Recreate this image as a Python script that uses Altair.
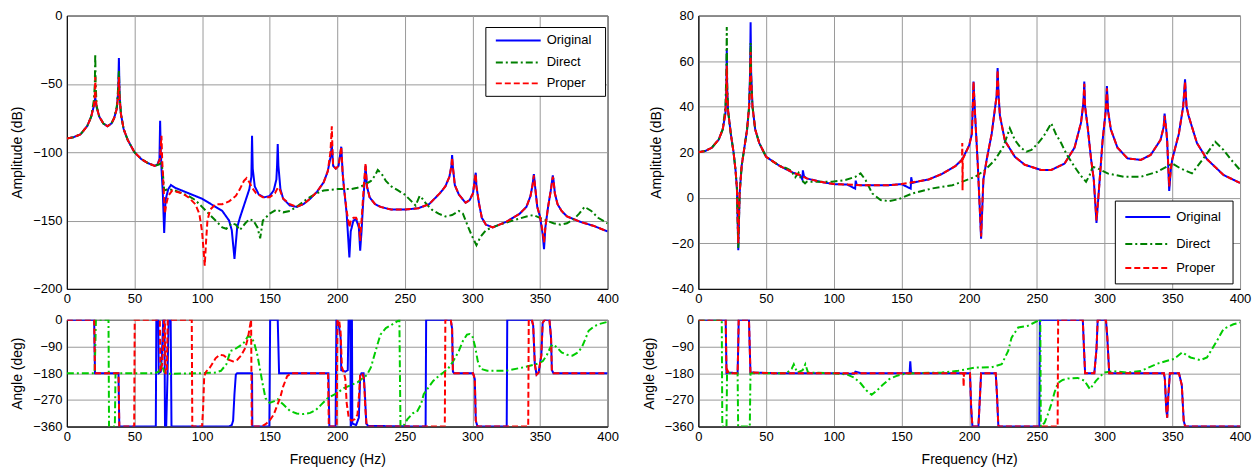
import altair as alt
import pandas as pd

SERIES = ["Original", "Direct", "Proper"]
FREQ_TICKS = [0, 50, 100, 150, 200, 250, 300, 350, 400]
AMP_TICKS_L = [-200, -150, -100, -50, 0]
AMP_TICKS_R = [-40, -20, 0, 20, 40, 60, 80]
ANG_TICKS = [-360, -270, -180, -90, 0]

# ---------------- top-left amplitude (dB) : (Hz, dB) ----------------
tl_original = [
    (0, -90), (5, -89), (10, -87), (15, -81), (18, -74), (20, -66), (20.7, -62), (21, -60), (21.3, -62),
    (22, -67), (24, -74), (27, -79), (30, -81), (33, -79), (35, -75), (37, -68), (38, -55), (38.5, -31),
    (39, -58), (40, -72), (42, -83), (45, -91), (50, -100), (55, -105), (60, -108), (65, -110), (67, -109),
    (68.5, -105), (69, -77), (69.5, -100), (70, -112), (71, -130), (72, -159), (73, -135), (75, -127),
    (77, -124), (80, -126), (85, -128), (90, -130), (95, -132), (100, -134), (105, -137), (110, -140),
    (115, -143), (120, -150), (122, -157), (124, -178), (126, -155), (128, -148), (130, -142), (133, -133),
    (135, -127), (136.5, -118), (137, -88), (137.5, -112), (139, -125), (142, -131), (146, -133), (150, -132),
    (153, -128), (155, -120), (155.5, -110), (156, -94), (156.5, -110), (158, -127), (160, -134), (165, -139),
    (170, -140), (175, -138), (180, -134), (185, -129), (190, -122), (193, -114), (195, -104), (196, -95),
    (196.5, -102), (197, -110), (199, -112), (201, -110), (203, -96), (203.5, -105), (204, -115), (205, -126),
    (207, -145), (209, -177), (210, -158), (212, -150), (214, -149), (216, -155), (217, -172), (218, -158),
    (219, -140), (220, -125), (221, -110), (222, -125), (224, -133), (228, -138), (232, -140), (240, -142),
    (250, -142), (260, -141), (268, -138), (276, -130), (280, -125), (283, -118), (284.5, -110), (285, -102),
    (285.5, -110), (287, -124), (290, -131), (295, -137), (298, -135), (300.5, -130), (302, -118),
    (302.5, -115), (303, -125), (305, -138), (307, -148), (310, -153), (315, -155), (320, -153), (325, -151),
    (330, -148), (335, -145), (340, -140), (343, -132), (344.5, -124), (345.5, -116), (346.5, -126),
    (348, -140), (350, -147), (352, -160), (353, -171), (354, -155), (356, -140), (358, -128), (359.5, -117),
    (360, -120), (361, -130), (363, -138), (366, -143), (370, -147), (375, -149), (380, -151), (390, -154),
    (400, -158),
]
tl_direct = [
    (0, -90), (5, -89), (10, -87), (15, -81), (18, -74), (20, -62), (20.7, -50), (21, -28), (21.3, -50),
    (22, -66), (24, -74), (27, -79), (30, -81), (33, -79), (35, -75), (37, -66), (38, -52), (38.5, -40),
    (39, -58), (40, -72), (42, -83), (45, -91), (50, -100), (55, -105), (60, -108), (65, -110), (68, -109),
    (70, -108), (71, -115), (72, -128), (75, -127), (80, -128), (85, -130), (90, -132), (95, -135),
    (100, -140), (105, -145), (110, -150), (115, -155), (118, -156), (122, -152), (125, -153), (128, -157),
    (132, -152), (135, -149), (138, -150), (141, -155), (143, -163), (145, -150), (150, -145), (155, -142),
    (160, -144), (165, -143), (170, -140), (178, -134), (185, -130), (190, -128), (200, -127), (210, -127),
    (215, -126), (220, -124), (225, -121), (228, -117), (230, -113), (233, -116), (236, -121), (240, -125),
    (245, -128), (250, -131), (255, -136), (258, -139), (261, -132), (263, -134), (266, -138), (270, -142),
    (275, -145), (280, -147), (285, -146), (290, -143), (293, -145), (297, -155), (300, -162), (303, -168),
    (306, -162), (310, -157), (315, -155), (320, -153), (330, -150), (340, -147), (345, -146), (350, -148),
    (355, -150), (360, -152), (365, -153), (370, -152), (375, -149), (379, -145), (383, -140), (388, -143),
    (393, -148), (400, -152),
]
tl_proper = [
    (0, -90), (5, -89), (10, -87), (15, -81), (18, -74), (20, -66), (20.7, -58), (21, -45), (21.3, -58),
    (22, -67), (24, -74), (27, -79), (30, -81), (33, -79), (35, -75), (37, -68), (38, -58), (38.5, -45),
    (39, -60), (40, -72), (42, -83), (45, -91), (50, -100), (55, -105), (60, -108), (65, -110), (67, -109),
    (69, -105), (69.5, -95), (70, -88), (70.5, -105), (71.5, -125), (72.5, -145), (73.5, -138), (75, -132),
    (78, -128), (85, -130), (90, -133), (95, -138), (98, -145), (100, -158), (101, -170), (102, -183),
    (103, -165), (104, -150), (106, -142), (110, -138), (115, -138), (120, -136), (125, -132), (128, -127),
    (131, -121), (133, -119), (135, -122), (137, -126), (140, -130), (145, -133), (150, -133), (154, -130),
    (156, -126), (157, -126), (160, -134), (165, -138), (170, -140), (175, -138), (180, -134), (185, -129),
    (190, -122), (193, -114), (195, -100), (196, -81), (196.5, -98), (197, -110), (199, -112), (201, -110),
    (203, -96), (203.5, -105), (204, -115), (205, -126), (207, -143), (209, -155), (210, -150), (212, -148),
    (214, -148), (216, -152), (217, -165), (218, -150), (219, -135), (220, -120), (221, -108), (222, -125),
    (224, -133), (228, -138), (232, -140), (240, -142), (250, -142), (260, -141), (268, -138), (276, -130),
    (280, -125), (283, -118), (284.5, -110), (285, -104), (285.5, -110), (287, -124), (290, -131),
    (295, -137), (298, -135), (300.5, -130), (302, -118), (302.5, -116), (303, -125), (305, -138), (307, -148),
    (310, -153), (315, -155), (320, -153), (325, -151), (330, -148), (335, -145), (340, -140), (343, -132),
    (344.5, -124), (345.5, -117), (346.5, -126), (348, -140), (350, -147), (352, -158), (353, -166),
    (354, -155), (356, -140), (358, -128), (359.5, -118), (360, -120), (361, -130), (363, -138), (366, -143),
    (370, -147), (375, -149), (380, -151), (390, -154), (400, -158),
]

# ---------------- top-right amplitude (dB) ----------------
tr_original = [
    (0, 20), (5, 20.5), (10, 22), (15, 25.5), (18, 30), (20, 37), (20.7, 48), (21, 65), (21.3, 48), (22, 38),
    (24, 28), (26, 20), (27.5, 12), (28.5, 4), (29.5, -23), (30.5, 2), (32, 14), (34, 22), (36, 30),
    (37.5, 40), (38.2, 55), (38.6, 77), (39, 55), (40, 40), (42, 30), (45, 24), (50, 18), (55, 16), (60, 14),
    (65, 12.5), (70, 11), (75, 10), (76.8, 8), (77.2, 12), (78, 9.5), (80, 8.5), (90, 7), (100, 6),
    (110, 5.8), (115.8, 4), (116.2, 7.5), (117, 5.6), (120, 5.5), (130, 5.5), (140, 5.5), (150, 6),
    (156.8, 4), (157.2, 9), (158, 6.5), (165, 7.5), (170, 8), (180, 10.5), (190, 14), (195, 17), (200, 23),
    (202, 28), (203.2, 51), (204.4, 36), (206.4, 14), (207.3, 2), (208.8, -18), (210.5, 8), (213, 17),
    (216.6, 28), (219, 39), (220.3, 45), (221, 57), (221.7, 45), (222.7, 36), (226.4, 25), (233.7, 18),
    (241, 14.5), (253, 12.2), (260.6, 12.2), (270.4, 15), (277.8, 22), (282.6, 33), (284.4, 42), (285, 51),
    (285.6, 40), (287.5, 31), (290, 17), (292, 8), (294, -11), (296, 5), (298.5, 25), (300.8, 38),
    (301.7, 49), (302.6, 38), (304.6, 30), (309.5, 22), (316.9, 17.3), (326.7, 16.6), (334, 18.8),
    (341.3, 25.4), (343.6, 31), (344.3, 37), (345.5, 30), (346.2, 25), (347.7, 3), (349, 13), (350, 17),
    (354.8, 28), (358, 40), (359.4, 52), (360.5, 40), (362, 36), (368.2, 24), (375.5, 17), (387.8, 10),
    (400, 6.5),
]
tr_direct = [
    (0, 20), (5, 20.5), (10, 22), (15, 25.5), (18, 30), (20, 40), (20.7, 55), (21, 75), (21.3, 50), (22, 38),
    (24, 28), (26, 20), (27.5, 12), (28.5, 4), (29.5, -22), (30.5, 2), (32, 14), (34, 22), (36, 30),
    (37.5, 40), (38.2, 52), (38.6, 68), (39, 52), (40, 40), (42, 30), (45, 24), (50, 18), (55, 16), (60, 14),
    (65, 13), (68.4, 12), (70, 10.5), (71.6, 9), (74, 11), (76, 8), (78.8, 6.3), (80, 7), (88.9, 7),
    (98.8, 7), (108.6, 7.8), (116, 9.2), (119.8, 10.7), (123.5, 7.8), (128.4, 1.9), (134.6, -1),
    (140.7, -1.5), (148, -0.6), (158, 1.9), (172.8, 4.1), (180, 4.8), (187.6, 5.5), (194.6, 7), (204.4, 9.2),
    (211.7, 12.2), (219, 16.6), (225.2, 22.4), (230, 30.5), (233.7, 25.4), (238, 22), (242.3, 20.2),
    (246, 21), (250.8, 23.9), (255, 27), (260.6, 32.7), (264, 28), (268, 23.9), (272, 19), (277.8, 13.6),
    (282, 10), (286.3, 7), (289, 10), (291.2, 13.6), (294.9, 12.9), (302.2, 10.7), (314.4, 9.2),
    (326.7, 9.2), (338.9, 11.4), (350, 15), (356, 12.9), (364.5, 10.7), (373, 17.3), (381.7, 24.6),
    (387.8, 21), (393, 17), (400, 12.2),
]
tr_proper = [
    (0, 20), (5, 20.5), (10, 22), (15, 25.5), (18, 30), (20, 37), (20.7, 46), (21, 58), (21.3, 46), (22, 38),
    (24, 28), (26, 20), (27.5, 12), (28.5, 4), (29.5, -20), (30.5, 2), (32, 14), (34, 22), (36, 30),
    (37.5, 40), (38.2, 52), (38.6, 64), (39, 52), (40, 40), (42, 30), (45, 24), (50, 18), (55, 16), (60, 14),
    (65, 12.5), (70, 11), (75, 10), (80, 8.5), (90, 7), (100, 6), (110, 5.8), (120, 5.5), (130, 5.5),
    (140, 5.5), (150, 6), (165, 7.5), (170, 8), (180, 10.5), (190, 14), (194.7, 16.5), (194.9, 24),
    (195.1, 3.3), (195.3, 17), (200, 23), (202, 28), (203.2, 51), (204.4, 36), (206.4, 14), (207.3, 2),
    (208.8, -17), (210.5, 8), (213, 17), (216.6, 28), (219, 39), (220.3, 45), (221, 56), (221.7, 45),
    (222.7, 36), (226.4, 25), (233.7, 18), (241, 14.5), (253, 12.2), (260.6, 12.2), (270.4, 15),
    (277.8, 22), (282.6, 33), (284.4, 42), (285, 50), (285.6, 40), (287.5, 31), (290, 17), (292, 8),
    (294, -10), (296, 5), (298.5, 25), (300.8, 38), (301.7, 48), (302.6, 38), (304.6, 30), (309.5, 22),
    (316.9, 17.3), (326.7, 16.6), (334, 18.8), (341.3, 25.4), (343.6, 31), (344.3, 36), (345.5, 30),
    (346.2, 25), (347.7, 5), (349, 13), (350, 17), (354.8, 28), (358, 40), (359.4, 51), (360.5, 40),
    (362, 36), (368.2, 24), (375.5, 17), (387.8, 10), (400, 6.5),
]

# ---------------- bottom-left angle (deg) ----------------
bl_original = [
    (0, 0), (20.2, 0), (20.8, -180), (38.2, -180), (38.8, -360), (65.8, -360), (66.2, 0), (67.6, 0),
    (68, -180), (69.5, -175), (70.2, -130), (71.3, 0), (72.2, 0), (72.6, -360), (73.5, -360), (74.5, -180),
    (75.3, 0), (76.8, 0), (77.4, -360), (120, -360), (122, -355), (123, -340), (124, -250), (125, -185),
    (126, -180), (137, -180), (137.2, -360), (149.8, -360), (150.4, 0), (156, 0), (157, -180),
    (193.5, -180), (194.2, -360), (198.8, -360), (199.4, 0), (201, -10), (202.5, -60), (203, -170),
    (206, -175), (207.8, -170), (208.4, 0), (209.7, 0), (210, -360), (210.3, -360), (210.6, 0), (210.9, 0),
    (211.2, -350), (214, -355), (216, -330), (217, -190), (218, -180), (219.5, -180), (220.5, -250),
    (221.5, -350), (223, -358), (265.4, -360), (265.8, 0), (284, 0), (285, -30), (285.6, -175),
    (286.5, -180), (300.5, -180), (301.8, -200), (302.5, -340), (303.8, -360), (325.4, -360), (325.8, 0),
    (344, 0), (345, -20), (346.2, -150), (347.5, -185), (349, -178), (351, -120), (352, -10), (353.5, 0),
    (357, 0), (358.2, -60), (358.8, -170), (360, -180), (400, -180),
]
bl_direct = [
    (0, -180), (20.5, -180), (21, -100), (21.5, 0), (30.8, 0), (31.2, -360), (35.5, -360), (36, -180),
    (65, -180), (68, -175), (70, -150), (72, -175), (75, -182), (100, -180), (110, -178), (114, -172),
    (118, -150), (121, -105), (124, -100), (128, -88), (131, -77), (134, -55), (137, -60), (139, -85),
    (141, -120), (143, -170), (145, -220), (147, -265), (150, -280), (153, -275), (156, -268), (160, -285),
    (165, -307), (170, -316), (175, -318), (180, -314), (184, -305), (188, -287), (193, -264), (200, -247),
    (205, -230), (215, -211), (222, -186), (225, -160), (227, -127), (230, -80), (232, -50), (236, -28),
    (240, -18), (246, 0), (246.8, -360), (249, -358), (252, -335), (256, -315), (259, -310), (262, -285),
    (264, -251), (268, -225), (271, -206), (275, -190), (278.5, -178), (282, -165), (286, -138),
    (290, -105), (293, -71), (296, -50), (298, -48), (300, -55), (302, -90), (304, -140), (306, -165),
    (311, -172), (325, -172), (337, -161), (347, -150), (352, -140), (355, -120), (358, -90), (360, -83),
    (363, -95), (366, -110), (370, -118), (374, -121), (378, -110), (381, -93), (384, -60), (386, -37),
    (390, -22), (394, -14), (400, -7),
]
bl_proper = [
    (0, 0), (20.2, 0), (20.8, -180), (38.2, -180), (38.8, -360), (49.8, -360), (50.2, 0), (68.8, 0),
    (69.2, -175), (70.5, -150), (71, -110), (71.8, 0), (72.5, 0), (73, -180), (74, -180), (74.6, 0),
    (92.4, 0), (92.8, -360), (100, -360), (100.8, -300), (101.6, -190), (103, -175), (106, -160),
    (110, -130), (113, -118), (116, -120), (120, -135), (123, -140), (126, -135), (129, -120), (132, -95),
    (134, -60), (135.5, -20), (136.3, 0), (136.8, -360), (144, -360), (147, -352), (150, -340), (153, -320),
    (155, -296), (158, -260), (160, -225), (163, -190), (166, -180), (193.2, -180), (193.8, -360),
    (199.6, -360), (200.2, 0), (201.5, -5), (202.5, -40), (203.5, -160), (205, -180), (206, -200),
    (207, -280), (208.5, -330), (210.5, -340), (213, -335), (215, -320), (216.2, -250), (217, -185),
    (218.5, -180), (219.8, -200), (220.8, -300), (221.8, -355), (223, -360), (279.6, -360), (280, 0),
    (284, 0), (285, -30), (285.6, -175), (286.5, -180), (300.5, -180), (301.8, -200), (302.5, -340),
    (303.8, -360), (341.3, -360), (341.7, 0), (344, 0), (345, -20), (346.2, -150), (347.5, -185),
    (349, -178), (351, -120), (352, -10), (353.5, 0), (357, 0), (358.2, -60), (358.8, -170), (360, -180),
    (400, -180),
]

# ---------------- bottom-right angle (deg) ----------------
br_original = [
    (0, 0), (20.2, 0), (20.8, -180), (22, -178), (29, -180), (29.4, -100), (29.8, 0), (37.4, 0),
    (38, -100), (38.5, -180), (40, -178), (55, -180), (100, -180), (115, -182), (116, -175), (120, -180),
    (150, -180), (156, -180), (156.5, -140), (157, -175), (158, -180), (200.6, -180), (201.5, -300),
    (202.4, -360), (206.8, -360), (207.5, -300), (208.8, -180), (219.6, -180), (220.5, -250),
    (221.5, -355), (222, -360), (251.8, -360), (252.2, 0), (283.9, 0), (284.8, -100), (285.6, -180),
    (292.4, -180), (294, -100), (294.9, 0), (301, 0), (302, -60), (303.4, -180), (343.8, -180),
    (344.5, -200), (345.5, -300), (346.2, -330), (347, -260), (348.2, -180), (354.9, -180), (357, -220),
    (358.4, -340), (359.5, -360), (400, -360),
]
br_direct = [
    (0, 0), (17.3, 0), (17.7, -360), (20.8, -360), (21.2, -180), (29, -180), (29.4, -360), (38, -360),
    (38.5, -180), (65, -180), (69, -165), (70.5, -150), (73, -178), (77, -170), (79, -150), (81, -178),
    (100, -180), (110, -185), (115, -195), (120, -215), (124, -238), (128, -253), (132, -238), (136, -220),
    (141, -200), (146, -190), (150, -184), (160, -180), (180, -178), (192, -172), (204.4, -161),
    (216.6, -160), (224, -150), (228.8, -105), (231.3, -60), (236.2, -26), (243.4, -20), (250.9, -3),
    (252.5, 0), (252.9, -360), (255.7, -347), (258, -320), (260.6, -285), (263, -245), (265.5, -213),
    (269, -203), (272.9, -198), (280.2, -196), (285, -205), (289.2, -234), (293.6, -206), (299.5, -178),
    (306.8, -173), (316.6, -178), (326.4, -173), (338.9, -148), (345, -140), (351.2, -132), (357.3, -110),
    (363.4, -127), (370.7, -136), (375.6, -127), (382.9, -71), (387.8, -31), (395.1, -15), (400, -9),
]
br_proper = [
    (0, 0), (20.2, 0), (20.8, -180), (21.5, -170), (22.5, -180), (29, -180), (29.4, -100), (29.8, 0),
    (37.4, 0), (38, -100), (38.5, -180), (40, -178), (55, -180), (100, -180), (150, -180), (195.6, -180),
    (195.9, -225), (196.2, -180), (200.6, -180), (201.5, -300), (202.4, -360), (206.8, -360),
    (207.5, -300), (208.8, -180), (219.6, -180), (220.5, -250), (221.5, -355), (222, -360), (265.3, -360),
    (265.7, 0), (283.9, 0), (284.8, -100), (285.6, -180), (292.4, -180), (294, -100), (294.9, 0), (301, 0),
    (302, -60), (303.4, -180), (343.8, -180), (344.5, -200), (345.5, -300), (346.2, -330), (347, -260),
    (348.2, -180), (354.9, -180), (357, -220), (358.4, -340), (359.5, -360), (400, -360),
]

COLORS_TOP = ["#0000ff", "#008000", "#ff0000"]
COLORS_BOTTOM = ["#0000ff", "#00cc00", "#ff0000"]
DASHES = [[1, 0], [7, 3, 2, 3], [6, 3]]


def frame(parts):
    rows = []
    for name, pts in parts:
        for k, (f, v) in enumerate(pts):
            rows.append({"f": f, "v": v, "s": name, "k": k})
    return pd.DataFrame(rows)


def panel(df, ydom, yticks, ytitle, w, h, colors, xtitle):
    col = alt.Color("s:N", legend=None, scale=alt.Scale(domain=SERIES, range=colors))
    dash = alt.StrokeDash("s:N", legend=None, scale=alt.Scale(domain=SERIES, range=DASHES))
    xax = alt.Axis(values=FREQ_TICKS, title=xtitle if xtitle else None, labelPadding=4, titlePadding=9,
                   labelFlush=False)
    yax = alt.Axis(values=yticks, title=ytitle, labelPadding=5, titlePadding=8, labelFlush=False)
    return alt.Chart(df).mark_line(strokeWidth=2, clip=True).encode(
        x=alt.X("f:Q", scale=alt.Scale(domain=[0, 400], nice=False, zero=False), axis=xax),
        y=alt.Y("v:Q", scale=alt.Scale(domain=ydom, nice=False, zero=False), axis=yax),
        color=col,
        strokeDash=dash,
        order="k:Q",
    ).properties(width=w, height=h)


def legend_box(bx, by, bw, bh, lx, tx, rows_y, colors):
    """Boxed legend in the plot corner (positions in pixels of the plot area)."""
    layers = [
        alt.Chart(pd.DataFrame({"s": ["box"]})).mark_rect(fill="white", stroke="black", strokeWidth=1).encode(
            x=alt.value(bx), x2=alt.value(bx + bw), y=alt.value(by), y2=alt.value(by + bh))
    ]
    for name, col, dsh, yy in zip(SERIES, colors, DASHES, rows_y):
        one = pd.DataFrame({"s": [name]})
        layers.append(alt.Chart(one).mark_rule(color=col, strokeDash=dsh, strokeWidth=2).encode(
            x=alt.value(lx), x2=alt.value(lx + 45), y=alt.value(yy)))
        layers.append(alt.Chart(one).mark_text(align="left", baseline="middle", fontSize=13,
                                               font="Liberation Sans", color="black").encode(
            x=alt.value(tx), y=alt.value(yy), text="s:N"))
    return layers


tl_main = panel(frame([("Original", tl_original), ("Direct", tl_direct), ("Proper", tl_proper)]),
                [-200, 0], AMP_TICKS_L, "Amplitude (dB)", 542, 274, COLORS_TOP, None)
tr_main = panel(frame([("Original", tr_original), ("Direct", tr_direct), ("Proper", tr_proper)]),
                [-40, 80], AMP_TICKS_R, "Amplitude (dB)", 543, 274, COLORS_TOP, None)
tl = alt.layer(tl_main, *legend_box(420, 12, 120, 69, 430, 481, [25, 47, 68], COLORS_TOP))
tr = alt.layer(tr_main, *legend_box(418, 186, 118, 83, 428, 479, [202, 229, 253], COLORS_TOP))
bl = panel(frame([("Original", bl_original), ("Direct", bl_direct), ("Proper", bl_proper)]),
           [-360, 0], ANG_TICKS, "Angle (deg)", 542, 107, COLORS_BOTTOM, "Frequency (Hz)")
br = panel(frame([("Original", br_original), ("Direct", br_direct), ("Proper", br_proper)]),
           [-360, 0], ANG_TICKS, "Angle (deg)", 543, 107, COLORS_BOTTOM, "Frequency (Hz)")

RES = dict(color="independent", strokeDash="independent", x="independent", y="independent")
left = alt.vconcat(tl, bl, spacing=6).resolve_scale(**RES)
right = alt.vconcat(tr, br, spacing=6).resolve_scale(**RES)
chart = alt.hconcat(left, right, spacing=22).resolve_scale(**RES).properties(
    padding={"top": 0, "left": 2, "right": 0, "bottom": 0}
).configure(font="Liberation Sans").configure_view(stroke="black", strokeWidth=1).configure_axis(
    labelFont="Liberation Sans", labelFontSize=13, labelColor="black", titleFont="Liberation Sans",
    titleFontSize=14, titleFontWeight="normal", titleColor="black", gridColor="#9a9a9a", gridWidth=1,
    domainColor="black", ticks=False
)

chart.save("out.html", embed_options={"renderer": "svg", "actions": False})
